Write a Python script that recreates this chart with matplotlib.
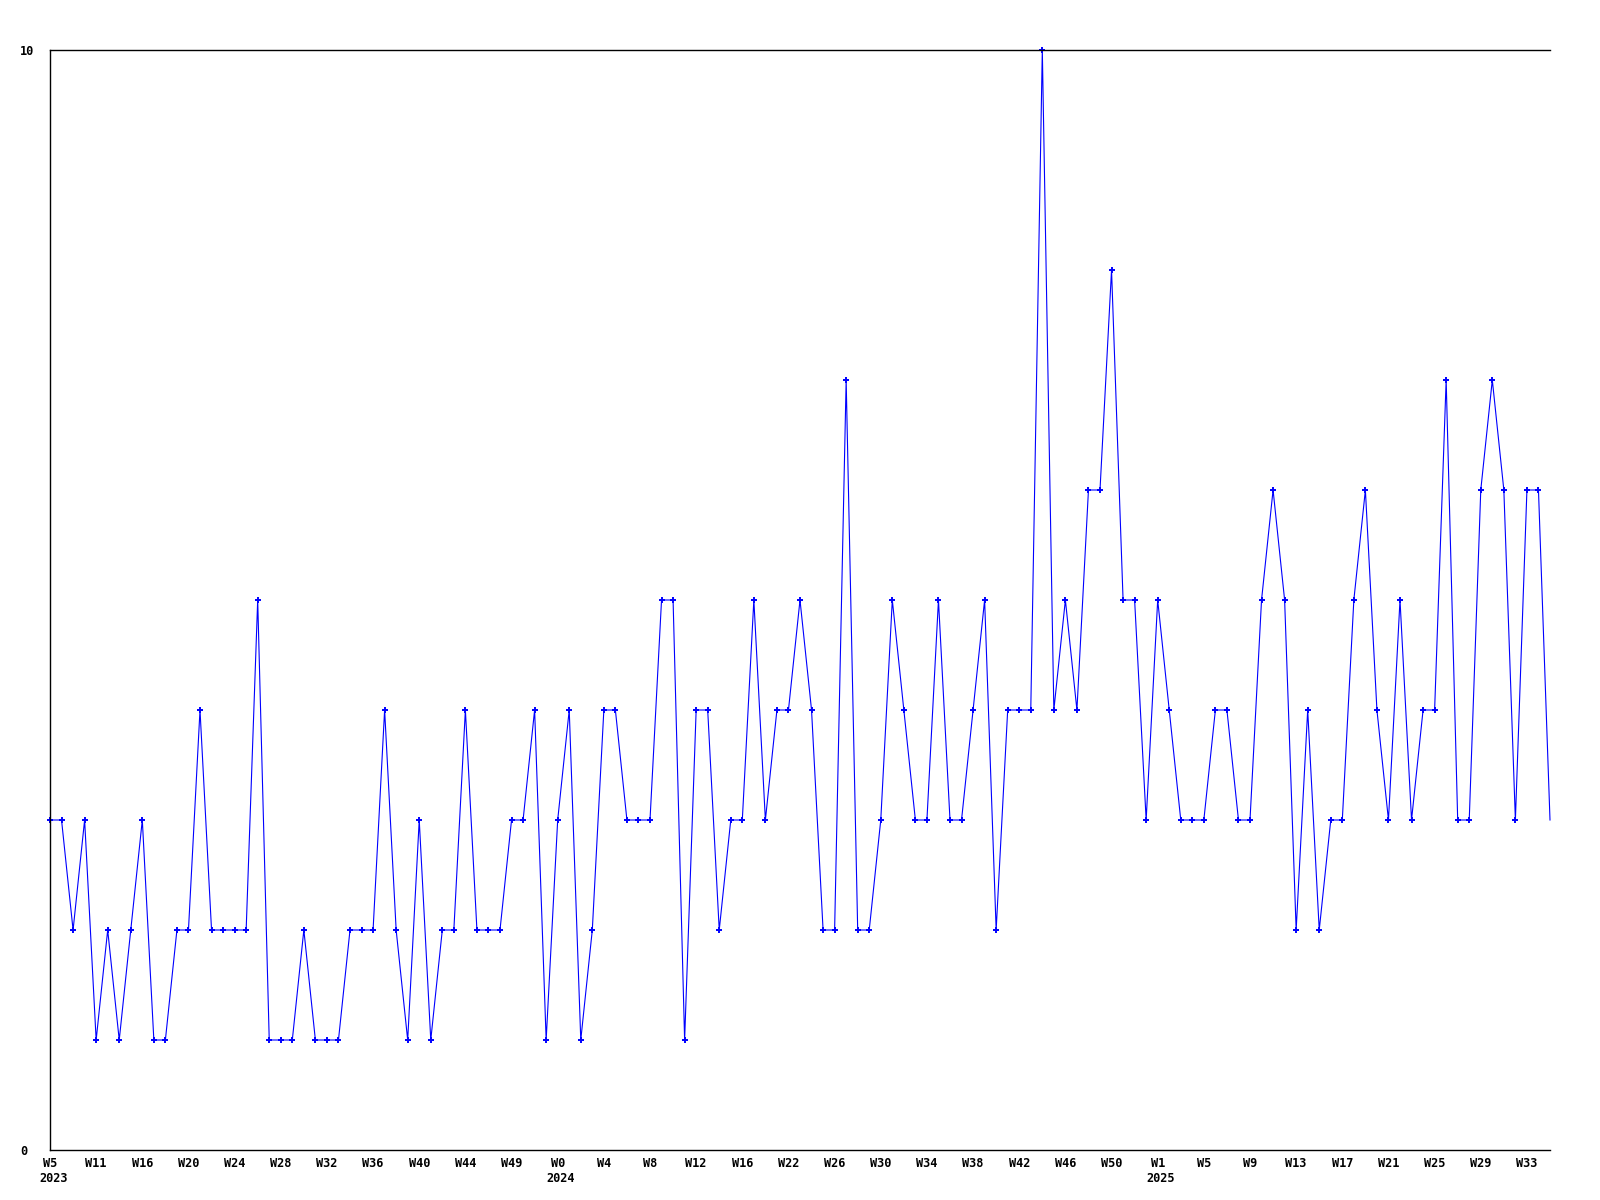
import matplotlib
matplotlib.use("Agg")
import matplotlib.pyplot as plt

values = [3,3,2,3,1,2,1,2,3,1,1,2,2,4,2,2,2,2,5,1,1,1,2,
          1,1,1,2,2,2,4,2,1,3,1,2,2,4,2,2,2,3,3,4,1,3,4,
          1,2,4,4,3,3,3,5,5,1,4,4,2,3,3,5,3,4,4,5,4,2,
          2,7,2,2,3,5,4,3,3,5,3,3,4,5,2,4,4,4,10,4,5,4,6,
          6,8,5,5,3,5,4,3,3,3,4,4,3,3,5,6,5,2,4,2,3,3,
          5,6,4,3,5,3,4,4,7,3,3,6,7,6,3,6,6,3]
week_labels = ["W5","W11","W16","W20","W24","W28","W32","W36","W40","W44","W49",
               "W0","W4","W8","W12","W16","W22","W26","W30","W34","W38","W42","W46","W50",
               "W1","W5","W9","W13","W17","W21","W25","W29","W33"]
year_labels = ["2023", "2024", "2025"]
year_positions = [0, 44, 96]
label_step = 4

FONT = dict(family="DejaVu Sans Mono", weight="bold", size=8.6)

fig = plt.figure(figsize=(16, 12), dpi=100)
ax = fig.add_axes([50/1600, 50/1200, 1500/1600, 1100/1200])

x = list(range(len(values)))
ax.plot(x, values, color="#0000ff", linewidth=0.8,
        marker="+", markersize=5, markeredgewidth=1.4,
        markevery=list(range(len(values) - 1)), clip_on=False)

ax.set_xlim(0, len(values) - 1)
ax.set_ylim(0, 10)

ax.spines["right"].set_visible(False)
for s in ("left", "top", "bottom"):
    ax.spines[s].set_linewidth(1.0)
    ax.spines[s].set_color("black")

ticks = list(range(0, len(values), label_step))
ax.set_xticks(ticks)
ax.set_xticklabels(week_labels, fontdict=FONT)
ax.tick_params(axis="x", length=0, pad=5)

ax.set_yticks([0, 10])
ax.set_yticklabels(["0", "10"], fontdict=FONT)
ax.tick_params(axis="y", length=0, pad=21.5)
for lbl in ax.get_yticklabels():
    lbl.set_horizontalalignment("left")

for pos, yr in zip(year_positions, year_labels):
    ax.annotate(yr, xy=(pos, 0), xycoords=("data", "axes fraction"),
                xytext=(-8, -16), textcoords="offset points",
                ha="left", va="top", **FONT)

fig.savefig("out.png", dpi=100)
